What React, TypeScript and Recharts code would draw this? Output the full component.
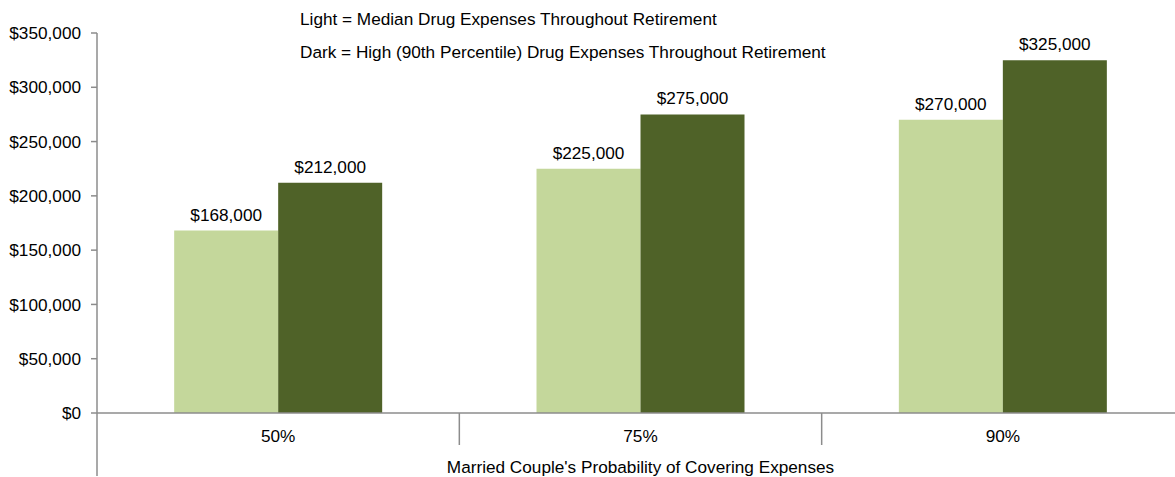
import { BarChart, Bar, XAxis, YAxis, LabelList } from 'recharts';

const categories = ['50%', '75%', '90%'];
const medianExpenses = [168000, 225000, 270000];
const highExpenses = [212000, 275000, 325000];
const yTicks = [0, 50000, 100000, 150000, 200000, 250000, 300000, 350000];

const data = categories.map((c, i) => ({
  prob: c,
  median: medianExpenses[i],
  high: highExpenses[i],
}));

const FONT = '"Liberation Sans", Arial, sans-serif';
const AXIS = '#8c8c8c';
const FS = 17.2;

const money = (v: number) => '$' + v.toLocaleString('en-US');

// category label plus the boundary ticks between categories
const CategoryTick = (props: any) => {
  const { x, y, payload, width, visibleTicksCount, index } = props;
  const band = width / visibleTicksCount;
  return (
    <g>
      <text x={x} y={y + 23} dy="0.35em" textAnchor="middle" fontSize={FS} fill="#000" fontFamily={FONT}>
        {payload.value}
      </text>
      {index < visibleTicksCount - 1 && (
        <line x1={x + band / 2} x2={x + band / 2} y1={y} y2={y + 32} stroke={AXIS} strokeWidth={1.5} />
      )}
      {index === 0 && (
        <line x1={x - band / 2} x2={x - band / 2} y1={y} y2={y + 63} stroke={AXIS} strokeWidth={1.5} />
      )}
    </g>
  );
};

const App = () => {
  return (
    <div style={{ position: 'absolute', left: 0, top: 0, width: 1175, height: 477, overflow: 'hidden', background: '#fff', fontFamily: FONT }}>
      <BarChart
        width={1190}
        height={477}
        data={data}
        margin={{ top: 33, right: 6, left: 0, bottom: 0 }}
        barCategoryGap="21.3%"
        barGap={0}
      >
        <XAxis
          dataKey="prob"
          height={64}
          tickSize={0}
          tickMargin={0}
          tickLine={false}
          axisLine={{ stroke: AXIS, strokeWidth: 1.5 }}
          tick={<CategoryTick />}
          label={{ value: "Married Couple's Probability of Covering Expenses", position: 'insideBottom', offset: 4, fontSize: FS, fill: '#000', fontFamily: FONT }}
        />
        <YAxis
          width={97}
          domain={[0, 350000]}
          ticks={yTicks}
          interval={0}
          tickFormatter={money}
          tickSize={6}
          tickMargin={10}
          tick={{ fontSize: FS, fill: '#000', fontFamily: FONT }}
          tickLine={{ stroke: AXIS, strokeWidth: 1.5 }}
          axisLine={{ stroke: AXIS, strokeWidth: 1.5 }}
        />
        <Bar dataKey="median" fill="#c4d79b" isAnimationActive={false}>
          <LabelList dataKey="median" position="top" offset={10} formatter={(v: any) => money(Number(v))} style={{ fontSize: FS, fill: '#000', fontFamily: FONT }} />
        </Bar>
        <Bar dataKey="high" fill="#4f6228" isAnimationActive={false}>
          <LabelList dataKey="high" position="top" offset={10} formatter={(v: any) => money(Number(v))} style={{ fontSize: FS, fill: '#000', fontFamily: FONT }} />
        </Bar>
      </BarChart>
      <div style={{ position: 'absolute', left: 300, top: 9, fontSize: FS, lineHeight: '20px', color: '#000' }}>
        Light = Median Drug Expenses Throughout Retirement
      </div>
      <div style={{ position: 'absolute', left: 300, top: 42, fontSize: FS, lineHeight: '20px', color: '#000' }}>
        Dark = High (90th Percentile) Drug Expenses Throughout Retirement
      </div>
    </div>
  );
};

export default App;
